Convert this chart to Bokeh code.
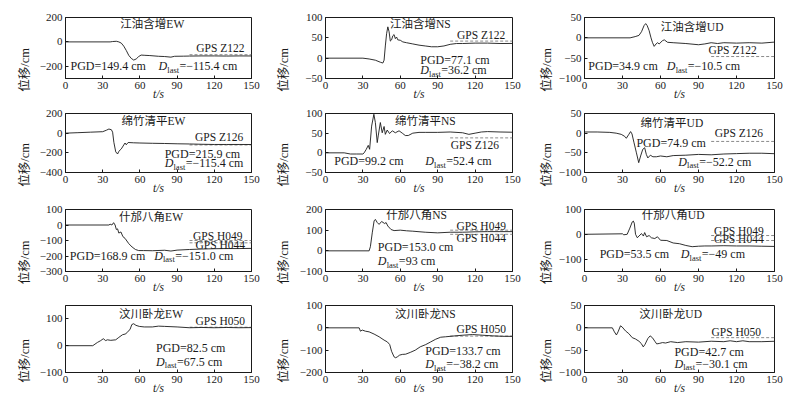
import math
from bokeh.plotting import figure
from bokeh.models import Label, FixedTicker, Range1d, CustomJSTickFormatter
from bokeh.layouts import column, row
from bokeh.embed import file_html
from bokeh.resources import INLINE

# ---------------- data ----------------
t_ticks = [0, 30, 60, 90, 120, 150]
stations = ["江油含增", "绵竹清平", "什邡八角", "汶川卧龙"]
components = ["EW", "NS", "UD"]

t_jy_ew = [0, 36, 38, 41, 43, 45, 47, 49, 51, 53, 55, 57, 59, 61, 64, 68, 75, 80, 85, 88, 95, 100, 110, 120, 130, 140, 150]
d_jy_ew = [0, 0, 3, 5, 0, -10, -35, -70, -110, -135, -149, -140, -120, -108, -110, -112, -118, -120, -125, -118, -117, -116, -115, -115, -116, -115, -115.4]
t_jy_ns = [0, 30, 35, 40, 44, 46, 47, 48, 49, 50, 51, 52, 53, 54, 55, 56, 57, 58, 60, 62, 65, 70, 75, 80, 85, 90, 95, 100, 105, 110, 120, 130, 140, 150]
d_jy_ns = [0, 0, -2, -5, -10, -12, -5, 30, 60, 77, 65, 42, 45, 55, 58, 48, 52, 45, 44, 40, 38, 35, 32, 30, 28, 28, 30, 34, 36, 36, 37, 37, 36, 36.2]
t_jy_ud = [0, 36, 40, 43, 45, 47, 48.3, 49.5, 51, 52.5, 53.6, 55, 56.5, 57.6, 59, 61.5, 63, 65.6, 70, 80, 90, 95, 100, 105, 110, 120, 130, 140, 150]
d_jy_ud = [0, 0, 3, 6, 15, 30, 35, 30, 18, 0, -11, -21, -15, -12, -15, -7, -5, -11, -12, -14, -17, -15, -12, -14, -12, -13, -12, -13, -10.5]

t_mz_ew = [0, 10, 20, 30, 33, 35, 37, 38, 39, 40.5, 42, 43, 45, 47, 48, 49, 50.5, 55, 60, 70, 80, 90, 100, 110, 120, 130, 140, 150]
d_mz_ew = [0, 5, 10, 15, 30, 42, 35, 10, -93, -190, -212, -185, -160, -120, -100, -118, -95, -98, -100, -103, -105, -108, -110, -113, -115, -115, -115, -115.4]
t_mz_ns = [0, 15, 20, 25, 30, 31, 32.7, 34.3, 35.4, 37, 38.8, 40, 41.5, 42.3, 44, 45.5, 47, 48, 49.5, 51.4, 53.6, 56, 59, 61.6, 64, 66.4, 70, 75, 80, 90, 100, 110, 115, 120, 125, 130, 140, 150]
d_mz_ns = [0, 0, -3, -3, -3, 0, 9, 19, 9, 68, 98, 77, 26, 43, 77, 51, 67, 47, 58, 49, 56, 51, 56, 50, 44, 44, 50, 52, 52, 52, 53, 51, 47, 50, 53, 54, 53, 52.4]
t_mz_ud = [0, 10, 20, 25, 29, 31.7, 33, 34.8, 36.4, 37.5, 39, 41, 42.8, 44.3, 46, 47.5, 48.8, 50, 52, 54, 56.7, 60, 65, 70, 80, 90, 100, 110, 120, 130, 140, 150]
d_mz_ud = [3, 3, 2, 0, -3, -8, -13, -4, 4, -2, -23, -50, -75, -58, -41, -37, -54, -63, -56, -60, -60, -58, -60, -57, -56, -54, -55, -53, -52, -51, -51, -52.2]

t_sf_ew = [0, 35, 36, 37.4, 38.8, 40, 41, 42, 43, 44.7, 46.3, 48, 51, 53.7, 56.4, 59, 63, 70, 80, 85, 90, 100, 110, 120, 130, 140, 150]
d_sf_ew = [0, 0, 5, 0, 15, 0, -29, -25, -52, -45, -75, -86, -120, -142, -158, -165, -165, -166, -163, -168, -162, -158, -155, -153, -152, -152, -151]
t_sf_ns = [0, 35, 36, 37.5, 39, 40, 41.5, 43, 45, 47.5, 48.6, 50, 52.6, 55, 60, 65, 70, 80, 90, 100, 110, 120, 130, 140, 150]
d_sf_ns = [0, 0, 20, 87, 145, 152, 137, 128, 142, 132, 137, 120, 103, 98, 100, 97, 95, 90, 87, 90, 90, 92, 93, 93, 93]
t_sf_ud = [0, 30, 31, 33.7, 35.8, 37.7, 38.5, 39.3, 40.3, 41.7, 43, 45, 46.5, 47.5, 49, 51, 52.8, 55.5, 57.6, 60, 65, 70, 75, 80, 85, 90, 95, 100, 110, 120, 130, 140, 150]
d_sf_ud = [0, 2, -2, 0, 25, 50, 53.5, 45, 0, -14, -7, 3, -7, 7, -10, -5, -14, -17, -10, -24, -25, -35, -38, -45, -50, -48, -47, -47, -46, -47, -47, -48, -49]

t_wl_ew = [0, 22, 25.7, 28.4, 30.5, 32.4, 33.8, 36.5, 40.5, 43, 46, 48.6, 50.5, 52, 53.5, 55, 56.8, 59.5, 63.5, 70, 75, 80, 90, 100, 110, 120, 130, 140, 150]
d_wl_ew = [0, 0, 12, 19, 26, 19, 22, 20, 22, 31, 41, 44, 54, 60, 79, 82, 76, 72, 70, 70, 73, 72, 70, 67, 68, 67, 68, 67, 67.5]
t_wl_ns = [0, 27, 28, 29.5, 32, 35, 39, 43, 47, 49.6, 51.5, 53, 55, 56.3, 57.6, 59.5, 61.6, 64.3, 68, 72, 76, 80.4, 84.4, 88.4, 92.4, 96.4, 102, 110, 118, 126, 134, 142, 150]
d_wl_ns = [0, 0, -15, -10, -15, -18, -28, -40, -55, -63, -75, -105, -130, -134, -130, -122, -119, -118, -110, -100, -85, -75, -63, -51, -42, -40, -37, -33, -30, -33, -36, -38, -38.2]
t_wl_ud = [0, 22, 23.6, 25.2, 26.5, 28.4, 29.7, 32.4, 35, 37.7, 40.3, 43, 44.8, 46.4, 47.8, 50, 51.8, 53.6, 55.5, 57, 59, 61.6, 64, 68, 73.5, 80, 90, 100, 110, 115, 120, 125, 130, 140, 150]
d_wl_ud = [0, 0, -9, -16, -9, 4.5, 2, -7, -13, -22, -25, -30, -35, -42.7, -37, -24, -18, -22, -30, -36, -35, -33, -34, -31, -33, -31, -32, -30, -31, -29, -31, -29, -31, -31, -30.1]

series_t = [[t_jy_ew, t_jy_ns, t_jy_ud], [t_mz_ew, t_mz_ns, t_mz_ud],
            [t_sf_ew, t_sf_ns, t_sf_ud], [t_wl_ew, t_wl_ns, t_wl_ud]]
series_d = [[d_jy_ew, d_jy_ns, d_jy_ud], [d_mz_ew, d_mz_ns, d_mz_ud],
            [d_sf_ew, d_sf_ns, d_sf_ud], [d_wl_ew, d_wl_ns, d_wl_ud]]

pgd_cm = [[149.4, 77.1, 34.9], [215.9, 99.2, 74.9], [168.9, 153.0, 53.5], [82.5, 133.7, 42.7]]
dlast_txt = [["−115.4", "36.2", "−10.5"], ["−115.4", "52.4", "−52.2"],
             ["−151.0", "93", "−49"], ["67.5", "−38.2", "−30.1"]]
gps_sites = [["Z122"], ["Z126"], ["H049", "H044"], ["H050"]]
gps_cm = [[[-105], [42], [-46]], [[-120], [38], [-21]],
          [[-100, -115], [100, 80], [-5, -25]], [[69], [-37], [-22]]]
gps_t_start = 100
t_end = 150

y_limits = [[(-300, 200), (-50, 100), (-100, 50)], [(-400, 200), (-50, 100), (-100, 50)],
            [(-300, 100), (-100, 200), (-150, 100)], [(-100, 150), (-200, 100), (-100, 50)]]
y_ticks = [[[-200, 0, 200], [-50, 0, 50, 100], [-100, -50, 0, 50]],
           [[-400, -200, 0, 200], [-50, 0, 50, 100], [-100, -50, 0, 50]],
           [[-300, -200, -100, 0, 100], [-100, 0, 100, 200], [-100, 0, 100]],
           [[-100, 0, 100], [-200, -100, 0, 100], [-100, -50, 0, 50]]]
y_title = "位移/cm"
x_title = "t/s"

# ---------------- annotation placement (data coords) ----------------
title_pos = [[(70, 150), (76, 84), (85, 27)], [(71, 125), (80, 82), (69, 27)],
             [(69, 52), (73, 172), (70, 78)], [(69, 118), (80, 60), (68, 30)]]
gps_lab_pos = [[[(126, -46)], [(126, 58)], [(118, -29)]],
               [[(125, -34)], [(121, 19)], [(123, 0)]],
               [[(124, -70), (126, -128)], [(126, 122), (126, 60)], [(123, 15), (123, -19)]],
               [[(126, 92)], [(126, -3)], [(121, -9)]]]
pgd_pos = [[(4, -200), (76, -5), (3, -70)], [(80, -207), (7, -21), (41, -26)],
           [(3.5, -198), (42, 20), (12, -81)], [(73, -9), (80, -104), (71, -54)]]
dl_pos = [[(75, -200), (76, -30), (65, -70)], [(80, -308), (80, -21), (74, -73)],
          [(71.5, -198), (42, -50), (76, -81)], [(73, -59), (80, -164), (71, -80)]]

# ---------------- style / layout ----------------
FONT = "Liberation Serif, Noto Sans CJK SC"
INK = "#1a1a1a"
GPS_COLOR = "#8a8a8a"
COLW = [262, 262, 261]
LEFT = [65, 63, 60]
RIGHT = [11, 12, 11]
YLAB_OFF = [45, 46, 42]          # distance of y-label centre from the frame
ROWH = [105, 94, 99, 101]
TOP = [17, 8, 10, 7]
BOTTOM = 27
TXT = "12px"


def add_text(p, x, y, txt, size=TXT, align="left", style="normal", dx=0, dy=0,
             baseline="middle"):
    p.add_layout(Label(x=x, y=y, text=txt, x_offset=dx, y_offset=dy,
                       text_font=FONT, text_font_size=size, text_font_style=style,
                       text_align=align, text_baseline=baseline, text_color=INK))


def label_width(v, px=11):
    s = str(abs(v))
    return px * (0.5 * len(s) + (0.564 if v < 0 else 0))


minus_fmt = "return tick < 0 ? '\\u2212' + Math.abs(tick) : String(tick);"

rows = []
for i in range(4):
    figs = []
    for j in range(3):
        lo, hi = y_limits[i][j]
        p = figure(width=COLW[j], height=ROWH[i],
                   x_range=Range1d(t_ticks[0], t_ticks[-1]), y_range=Range1d(lo, hi),
                   output_backend="svg", toolbar_location=None,
                   min_border_left=LEFT[j], min_border_right=RIGHT[j],
                   min_border_top=TOP[i], min_border_bottom=BOTTOM,
                   x_axis_label=x_title, y_axis_label=y_title)
        p.grid.visible = False
        p.outline_line_color = INK
        p.outline_line_width = 1
        p.background_fill_color = "white"
        p.border_fill_color = "white"

        for ax in (p.xaxis[0], p.yaxis[0]):
            ax.axis_line_color = INK
            ax.major_tick_line_color = INK
            ax.major_tick_in = 3
            ax.major_tick_out = 0
            ax.minor_tick_line_color = None
            ax.major_label_text_font = FONT
            ax.major_label_text_font_size = "11px"
            ax.major_label_text_color = INK
            ax.axis_label_text_font = FONT
            ax.axis_label_text_color = INK
            ax.major_label_standoff = 3

        p.xaxis.ticker = FixedTicker(ticks=t_ticks)
        p.xaxis.axis_label_text_font_size = "11.5px"
        p.xaxis.axis_label_text_font_style = "italic"
        p.xaxis.axis_label_standoff = -4

        p.yaxis.ticker = FixedTicker(ticks=y_ticks[i][j])
        p.yaxis.formatter = CustomJSTickFormatter(code=minus_fmt)
        p.yaxis.axis_label_text_font_size = "12.5px"
        p.yaxis.axis_label_text_font_style = "normal"
        p.yaxis.axis_label_orientation = math.pi / 2
        w = max(label_width(v) for v in y_ticks[i][j])
        p.yaxis.axis_label_standoff = max(0, int(round(YLAB_OFF[j] - 3 - w - 7.5)))

        # GPS reference lines
        for g in gps_cm[i][j]:
            p.line([gps_t_start, t_end], [g, g], line_color=GPS_COLOR,
                   line_width=1, line_dash="3 2")

        # waveform
        p.line(series_t[i][j], series_d[i][j], line_color=INK, line_width=0.9)

        # texts
        tx, ty = title_pos[i][j]
        add_text(p, tx, ty, stations[i] + components[j], size="11.5px", align="center")
        for (gx, gy), site in zip(gps_lab_pos[i][j], gps_sites[i]):
            add_text(p, gx, gy, "GPS  " + site, size="11.5px", align="center")
        px_, py_ = pgd_pos[i][j]
        add_text(p, px_, py_, "PGD=%.1f cm" % pgd_cm[i][j])
        dx_, dy_ = dl_pos[i][j]
        add_text(p, dx_, dy_, "D", style="italic")
        add_text(p, dx_, dy_, "last", size="8.5px", dx=8.8, dy=-3.5)
        add_text(p, dx_, dy_, "=" + dlast_txt[i][j] + " cm", dx=21)

        figs.append(p)
    rows.append(row(*figs, spacing=0))

layout = column(*rows, spacing=0)
open("out.html", "w").write(file_html(layout, INLINE))
